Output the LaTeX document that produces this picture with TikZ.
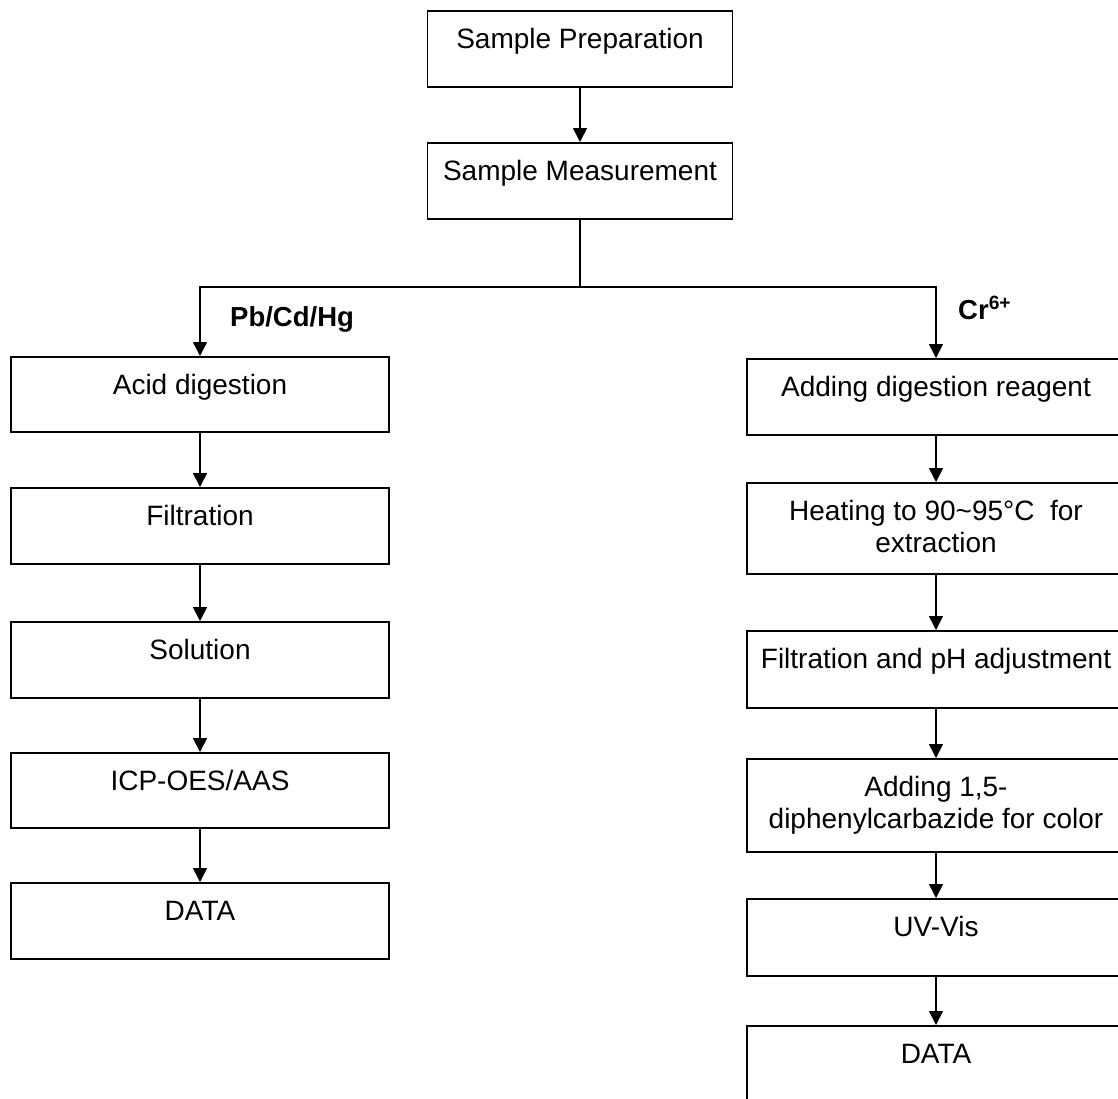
\documentclass[tikz,border=0pt]{standalone}
\usepackage{fontspec}
\setmainfont{Liberation Sans}
\usetikzlibrary{arrows.meta}
\newcommand\bxt[3]{\parbox[t][#1pt][t]{#2pt}{\centering\vspace*{15pt}\strut #3\par}}
\begin{document}
\begin{tikzpicture}[x=1pt,y=-1pt,
 box/.style={draw, line width=1.6pt, inner sep=0pt, anchor=north, font=\fontsize{28}{32}\selectfont},
 conn/.style={line width=1.6pt, -{Triangle[width=14pt,length=14pt]}},
 plain/.style={line width=1.6pt},
 lbl/.style={anchor=base west, inner sep=0pt, font=\fontsize{27.5}{30}\selectfont\bfseries}]
\useasboundingbox (0,0) rectangle (1118,1098);
\fill[white] (0,0) rectangle (1118,1098);
\clip (0,0) rectangle (1118,1098);

% top
\node[box] (sp) at (580,10) {\bxt{76}{305}{Sample Preparation}};
\node[box] (sm) at (580,142) {\bxt{76}{305}{Sample Measurement}};

% left column
\node[box] (acid) at (200,356) {\bxt{75}{378}{Acid digestion}};
\node[box] (filt) at (200,487) {\bxt{76}{378}{Filtration}};
\node[box] (sol)  at (200,621) {\bxt{76}{378}{Solution}};
\node[box] (icp)  at (200,752) {\bxt{75}{378}{ICP-OES/AAS}};
\node[box] (dataL) at (200,882) {\bxt{76}{378}{DATA}};

% right column
\node[box] (adr)  at (936,358) {\bxt{76}{378}{Adding digestion reagent}};
\node[box] (heat) at (936,482) {\bxt{91}{378}{Heating to 90\textasciitilde 95°C\ \ for\\extraction}};
\node[box] (fph)  at (936,630) {\bxt{77}{378}{Filtration and pH adjustment}};
\node[box] (add)  at (936,758) {\bxt{93}{378}{Adding 1,5-\\diphenylcarbazide for color}};
\node[box] (uv)   at (936,898) {\bxt{77}{378}{UV-Vis}};
\node[box] (dataR) at (936,1025) {\bxt{76}{378}{DATA}};

% labels
\node[lbl] (lpb) at (230,326) {Pb/Cd/Hg};
\node[lbl] (lcr) at (958,319) {Cr\textsuperscript{6+}};

% connectors
\coordinate (split) at (580,287);
\draw[conn] (sp) -- (sm);
\draw[plain] (sm.south) -- (split);
\draw[conn] (split) -| (acid.north);
\draw[conn] (split) -| (adr.north);

\draw[conn] (acid) -- (filt);
\draw[conn] (filt) -- (sol);
\draw[conn] (sol) -- (icp);
\draw[conn] (icp) -- (dataL);

\draw[conn] (adr) -- (heat);
\draw[conn] (heat) -- (fph);
\draw[conn] (fph) -- (add);
\draw[conn] (add) -- (uv);
\draw[conn] (uv) -- (dataR);
\end{tikzpicture}
\end{document}
